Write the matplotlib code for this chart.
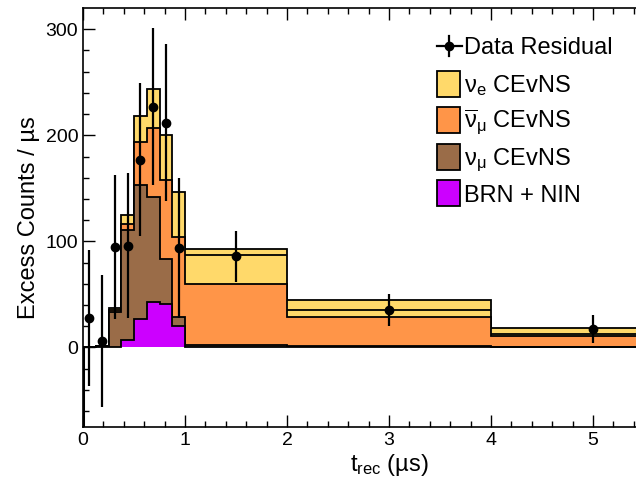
import matplotlib
matplotlib.use("Agg")
import matplotlib.pyplot as plt
import numpy as np
from matplotlib.lines import Line2D
from matplotlib.patches import Rectangle

plt.rcParams['font.family'] = ['Liberation Sans', 'DejaVu Sans']
plt.rcParams['mathtext.fontset'] = 'custom'
plt.rcParams['mathtext.rm'] = 'Liberation Sans'
plt.rcParams['mathtext.it'] = 'Liberation Sans:italic'

# ===========================
# DATA
# ===========================

# variable bin edges (us)
bin_edges = [0, 0.125, 0.25, 0.375, 0.5, 0.625, 0.75, 0.875, 1.0, 2.0, 4.0, 6.0]

# per-bin contributions (excess counts / us), bottom to top of the stack
brn_nin = [0, 0, 0, 7, 27, 43, 41, 20, 0, 0, 0]
numu = [0, 1, 33, 104, 126, 99, 42, 9, 2, 1, 0.5]
numubar = [0, 0, 2, 5, 41, 65, 74.5, 75, 58, 28, 10.5]
nue = [0, 0, 2.5, 9, 24, 36.5, 42.5, 43, 33, 16, 7]

# extra outline inside the wide bins
inner_lo = [1.0, 2.0, 4.0]
inner_hi = [2.0, 4.0, 6.0]
inner_val = [87, 35, 12.5]

# data residual
data_t = [0.0625, 0.1875, 0.3125, 0.4375, 0.5625, 0.6875, 0.8125, 0.9375, 1.5, 3.0, 5.0]
data_y = [28, 6, 95, 96, 177, 227, 212, 94, 86, 35, 17.5]
data_err = [64, 62, 68, 68, 72, 74, 74, 66, 24, 15, 13]

labels = [r'$\mathrm{ν}_{\mathrm{e}}$ CEvNS',
          r'$\overline{\mathrm{ν}}_{\mathrm{μ}}$ CEvNS',
          r'$\mathrm{ν}_{\mathrm{μ}}$ CEvNS',
          'BRN + NIN']
colors = ['#ffd96a', '#ff9548', '#9a6c48', '#cc00ff']

# ===========================
# PLOT
# ===========================

W, H = 636, 479
fig = plt.figure(figsize=(W / 100, H / 100), dpi=100)
# axis runs to t = 6 us, the right part falls outside the picture
ax = fig.add_axes([83 / W, 52 / H, 612 / W, 419 / H])

layers = [brn_nin, numu, numubar, nue]
cums = np.cumsum(np.array(layers, dtype=float), axis=0)

# draw like a ROOT stack: total first, each one filled from zero
for cum, col in zip(cums[::-1], colors):
    ax.stairs(cum, bin_edges, baseline=0, fill=True, facecolor=col,
              edgecolor='black', linewidth=1.3)

ax.hlines(inner_val, inner_lo, inner_hi, colors='black', linewidth=1.3)
ax.vlines(0, -75, 0, colors='black', linewidth=2.2)

ax.errorbar(data_t, data_y, yerr=data_err, fmt='o', color='black',
            markersize=6, elinewidth=1.6, capsize=0)

ax.set_xlim(0, 6)
ax.set_ylim(-75, 320)
ax.set_xticks([0, 1, 2, 3, 4, 5])
ax.set_yticks([0, 100, 200, 300])
ax.set_xticks(np.arange(0, 6.01, 0.2), minor=True)
ax.set_yticks(np.arange(-60, 320, 20), minor=True)
ax.tick_params(which='both', direction='in', top=True, right=True,
               labelsize=14, width=1.0)
ax.tick_params(which='major', length=8.5)
ax.tick_params(which='minor', length=4.3)
for s in ax.spines.values():
    s.set_linewidth(1.2)

ax.set_xlabel(r'$\mathrm{t}_{\mathrm{rec}}$ (µs)', fontsize=17, labelpad=2)
ax.set_ylabel('Excess Counts / µs', fontsize=17, labelpad=4)

# ---- legend, laid out by hand (pixel positions from the top-left) ----
def fx(px):
    return px / W

def fy(py):
    return 1 - py / H

row_y = [46, 84, 120, 157, 193]
box_l, box_r, box_h = 437, 460, 26
text_x = 464

fig.add_artist(Line2D([fx(box_l), fx(box_r + 2)], [fy(row_y[0])] * 2,
                      color='black', linewidth=1.6))
fig.add_artist(Line2D([fx(449)] * 2, [fy(row_y[0] - 10), fy(row_y[0] + 10)],
                      color='black', linewidth=1.6))
fig.add_artist(Line2D([fx(449)], [fy(row_y[0])], marker='o', markersize=6,
                      color='black'))
fig.text(fx(text_x), fy(row_y[0] + 8.5), 'Data Residual', fontsize=17,
         va='baseline', ha='left')

for yc, col, lab in zip(row_y[1:], colors, labels):
    fig.add_artist(Rectangle((fx(box_l), fy(yc + box_h / 2)),
                             fx(box_r) - fx(box_l), box_h / H,
                             facecolor=col, edgecolor='black', linewidth=1.3))
    fig.text(fx(text_x), fy(yc + 8.5), lab, fontsize=17, va='baseline', ha='left')

fig.savefig('out.png', dpi=100)
